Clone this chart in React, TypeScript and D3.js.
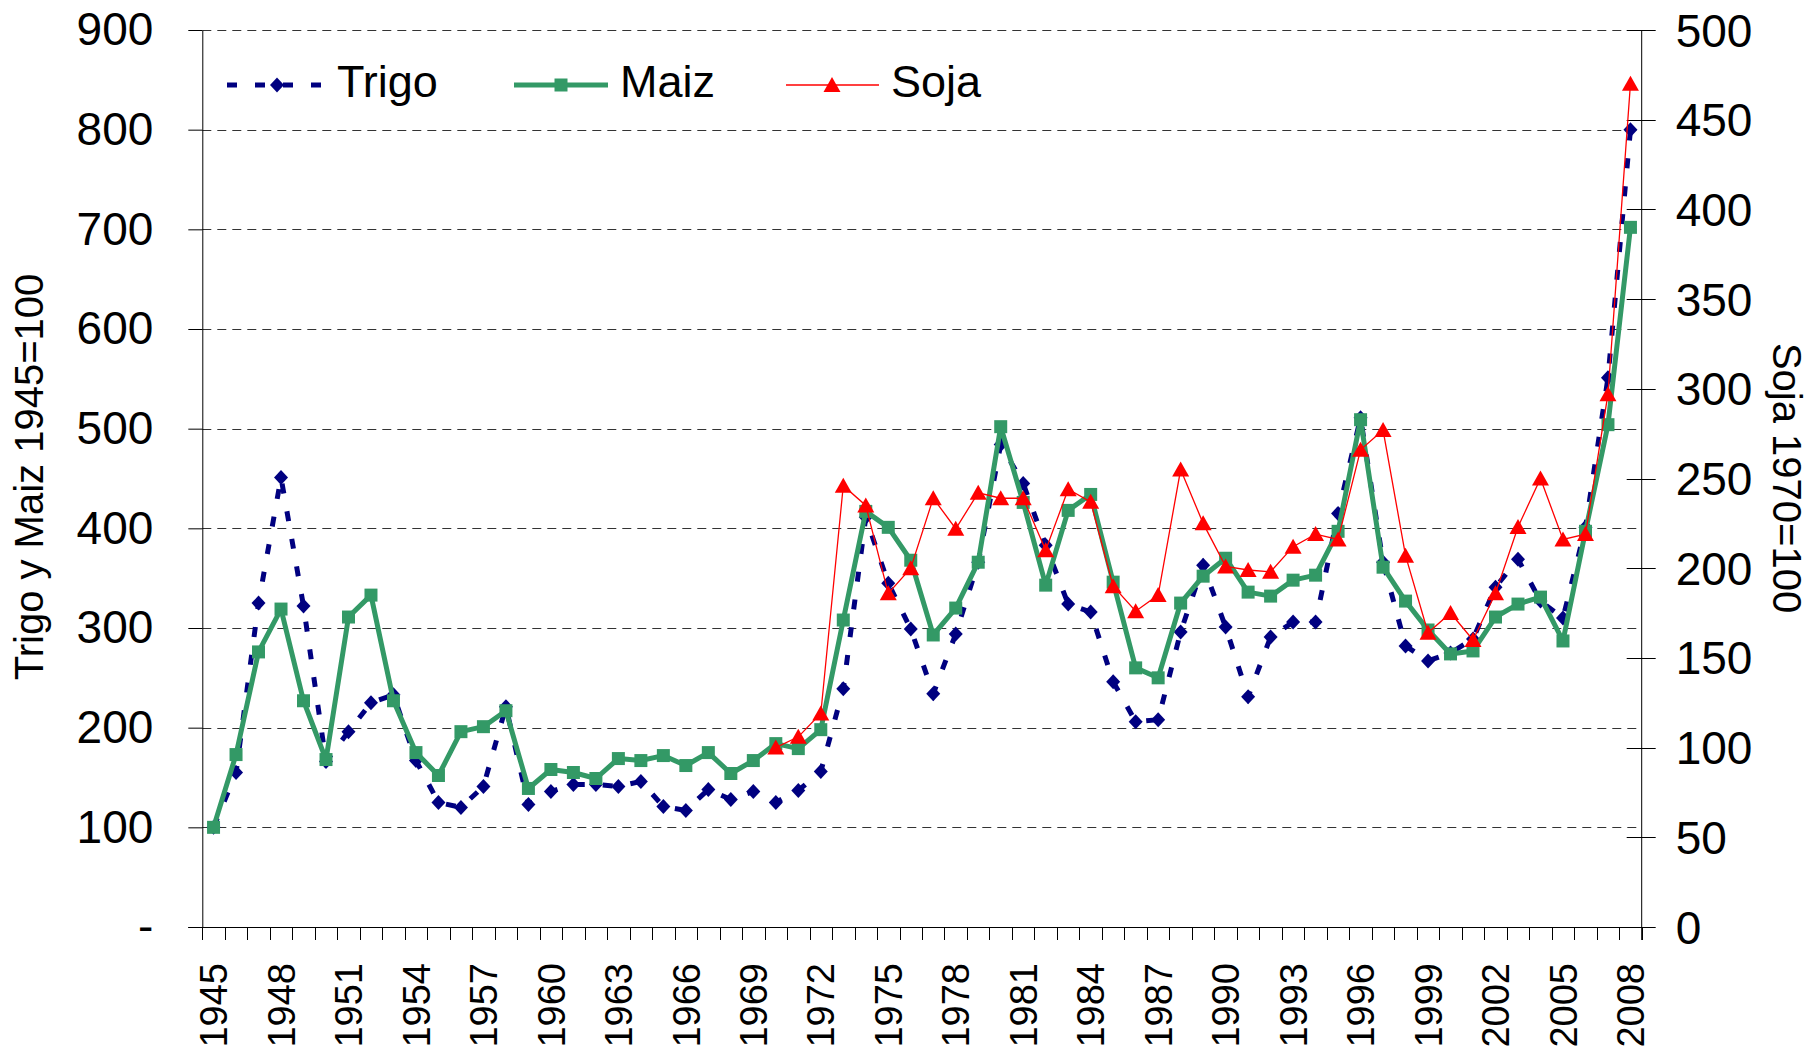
import * as d3 from "d3";
import { useRef, useEffect } from "react";

// Índices de precios, años 1945-2008
const years: number[] = d3.range(1945, 2009);

const trigo = [
  100, 155, 325, 451, 322, 166, 196, 225, 233, 167, 125, 120, 141, 221, 123,
  136, 143, 143, 141, 146, 121, 117, 138, 128, 136, 125, 137, 156, 239, 411,
  345, 299, 234, 294, 366, 484, 445, 383, 324, 316, 246, 206, 208, 296, 363,
  301, 231, 291, 306, 306, 415, 511, 366, 282, 267, 275, 289, 341, 369, 327,
  310, 401, 551, 800,
];

const maiz = [
  100, 173, 276, 319, 227, 168, 311, 333, 227, 175, 152, 196, 201, 217, 139,
  158, 155, 149, 169, 167, 172, 162, 175, 154, 167, 184, 179, 198, 308, 417,
  401, 368, 293, 320, 366, 502, 426, 343, 418, 434, 346, 260, 250, 325, 352,
  370, 336, 332, 348, 353, 397, 509, 361, 327, 298, 274, 277, 311, 324, 331,
  287, 397, 504, 702,
];

// Soja empieza en 1970 (1970=100)
const sojaYears: number[] = d3.range(1970, 2009);
const soja = [
  100, 106, 119, 246, 235, 186, 200, 239, 222, 242, 239, 239, 210, 244, 237,
  190, 176, 185, 255, 225, 201, 199, 198, 212, 219, 216, 266, 277, 207, 164,
  175, 160, 186, 223, 250, 216, 219, 297, 470,
];

const leftTicks = [0, 100, 200, 300, 400, 500, 600, 700, 800, 900];
const rightTicks = [0, 50, 100, 150, 200, 250, 300, 350, 400, 450, 500];
const yearLabels = years.filter((y) => (y - 1945) % 3 === 0);

const FONT = "'Liberation Sans', Arial, Helvetica, sans-serif";
const NAVY = "#000080";
const GREEN = "#339966";
const RED = "#ff0000";

export default function App() {
  const ref = useRef<SVGSVGElement>(null);

  useEffect(() => {
    if (!ref.current) return;
    document.body.style.margin = "0";
    const svg = d3.select(ref.current);
    svg.selectAll("*").remove();

    const left = 202.3;
    const right = 1641.7;
    const top = 30;
    const bottom = 927;

    const x = d3.scaleBand<number>().domain(years).range([left, right]);
    const cx = (yr: number) => (x(yr) || 0) + x.bandwidth() / 2;
    const yL = d3.scaleLinear().domain([0, 900]).range([bottom, top]);
    const yR = d3.scaleLinear().domain([0, 500]).range([bottom, top]);

    // gridlines
    svg
      .append("g")
      .selectAll("line")
      .data(leftTicks.filter((d) => d > 0))
      .enter()
      .append("line")
      .attr("x1", left)
      .attr("x2", right)
      .attr("y1", (d) => Math.round(yL(d)) + 0.5)
      .attr("y2", (d) => Math.round(yL(d)) + 0.5)
      .attr("stroke", "#333")
      .attr("stroke-width", 1)
      .attr("stroke-dasharray", "9,6");

    // left axis
    const gl = svg
      .append("g")
      .attr("transform", `translate(${left},0)`)
      .call(
        d3
          .axisLeft(yL)
          .tickValues(leftTicks)
          .tickSize(14)
          .tickSizeOuter(0)
          .tickPadding(35)
          .tickFormat((d) => (d === 0 ? "-" : String(d)))
      );
    gl.select(".domain").attr("stroke", "#000");
    gl.selectAll(".tick line").attr("stroke", "#000");
    gl.selectAll("text")
      .attr("font-family", FONT)
      .attr("font-size", 46)
      .attr("fill", "#000");

    // right axis
    svg
      .append("line")
      .attr("x1", right)
      .attr("x2", right)
      .attr("y1", top)
      .attr("y2", bottom + 13)
      .attr("stroke", "#000");
    const gr = svg.append("g");
    gr.selectAll("line")
      .data(rightTicks)
      .enter()
      .append("line")
      .attr("x1", right - 15)
      .attr("x2", right + 14)
      .attr("y1", (d) => Math.round(yR(d)) + 0.5)
      .attr("y2", (d) => Math.round(yR(d)) + 0.5)
      .attr("stroke", "#000");
    gr.selectAll("text")
      .data(rightTicks)
      .enter()
      .append("text")
      .attr("x", right + 34)
      .attr("y", (d) => yR(d))
      .attr("dy", "0.36em")
      .attr("font-family", FONT)
      .attr("font-size", 46)
      .text((d) => String(d));

    // bottom axis
    svg
      .append("line")
      .attr("x1", left - 14)
      .attr("x2", right)
      .attr("y1", bottom + 0.5)
      .attr("y2", bottom + 0.5)
      .attr("stroke", "#000");
    svg
      .append("g")
      .selectAll("line")
      .data(d3.range(years.length + 1))
      .enter()
      .append("line")
      .attr("x1", (i) => Math.round(left + i * x.bandwidth()) + 0.5)
      .attr("x2", (i) => Math.round(left + i * x.bandwidth()) + 0.5)
      .attr("y1", bottom)
      .attr("y2", bottom + 13)
      .attr("stroke", "#000");
    svg
      .append("g")
      .selectAll("text")
      .data(yearLabels)
      .enter()
      .append("text")
      .attr("transform", (d) => `translate(${cx(d)},963) rotate(-90)`)
      .attr("dy", "0.36em")
      .attr("text-anchor", "end")
      .attr("font-family", FONT)
      .attr("font-size", 38)
      .text((d) => String(d));

    // axis titles
    svg
      .append("text")
      .attr("transform", "translate(29,477) rotate(-90)")
      .attr("dy", "0.36em")
      .attr("text-anchor", "middle")
      .attr("font-family", FONT)
      .attr("font-size", 40)
      .text("Trigo y Maiz 1945=100");
    svg
      .append("text")
      .attr("transform", "translate(1787,478) rotate(90)")
      .attr("dy", "0.36em")
      .attr("text-anchor", "middle")
      .attr("font-family", FONT)
      .attr("font-size", 40)
      .text("Soja 1970=100");

    const diamond = "M0,-7.5L7,0L0,7.5L-7,0Z";
    const square = "M-6.5,-6.5H6.5V6.5H-6.5Z";
    const triangle = "M0,-8L8.5,7L-8.5,7Z";

    // Trigo
    const lineL = d3
      .line<number>()
      .x((_, i) => cx(years[i]))
      .y((d) => yL(d));
    svg
      .append("path")
      .datum(trigo)
      .attr("d", lineL)
      .attr("fill", "none")
      .attr("stroke", NAVY)
      .attr("stroke-width", 5)
      .attr("stroke-dasharray", "10,18");
    svg
      .append("g")
      .selectAll("path")
      .data(trigo)
      .enter()
      .append("path")
      .attr("d", diamond)
      .attr("transform", (d, i) => `translate(${cx(years[i])},${yL(d)})`)
      .attr("fill", NAVY);

    // Maiz
    svg
      .append("path")
      .datum(maiz)
      .attr("d", lineL)
      .attr("fill", "none")
      .attr("stroke", GREEN)
      .attr("stroke-width", 5)
      .attr("stroke-linejoin", "round");
    svg
      .append("g")
      .selectAll("path")
      .data(maiz)
      .enter()
      .append("path")
      .attr("d", square)
      .attr("transform", (d, i) => `translate(${cx(years[i])},${yL(d)})`)
      .attr("fill", GREEN);

    // Soja (eje derecho)
    const lineR = d3
      .line<number>()
      .x((_, i) => cx(sojaYears[i]))
      .y((d) => yR(d));
    svg
      .append("path")
      .datum(soja)
      .attr("d", lineR)
      .attr("fill", "none")
      .attr("stroke", RED)
      .attr("stroke-width", 1.3);
    svg
      .append("g")
      .selectAll("path")
      .data(soja)
      .enter()
      .append("path")
      .attr("d", triangle)
      .attr("transform", (d, i) => `translate(${cx(sojaYears[i])},${yR(d)})`)
      .attr("fill", RED);

    // legend
    const ly = 85;
    const legend = [
      { name: "Trigo", x1: 227, x2: 321, mx: 277, tx: 337, color: NAVY, w: 5, dash: "10,18", m: diamond },
      { name: "Maiz", x1: 514, x2: 608, mx: 561, tx: 620, color: GREEN, w: 5, dash: null, m: square },
      { name: "Soja", x1: 786, x2: 879, mx: 832, tx: 891, color: RED, w: 1.3, dash: null, m: triangle },
    ];
    const lg = svg.append("g").selectAll("g").data(legend).enter().append("g");
    lg.append("line")
      .attr("x1", (d) => d.x1)
      .attr("x2", (d) => d.x2)
      .attr("y1", ly)
      .attr("y2", ly)
      .attr("stroke", (d) => d.color)
      .attr("stroke-width", (d) => d.w)
      .attr("stroke-dasharray", (d) => d.dash);
    lg.append("path")
      .attr("d", (d) => d.m)
      .attr("transform", (d) => `translate(${d.mx},${ly})`)
      .attr("fill", (d) => d.color);
    lg.append("text")
      .attr("x", (d) => d.tx)
      .attr("y", 96.5)
      .attr("font-family", FONT)
      .attr("font-size", 45)
      .text((d) => d.name);
  }, []);

  return (
    <svg
      ref={ref}
      width={1808}
      height={1053}
      style={{ display: "block", background: "#fff" }}
    />
  );
}
